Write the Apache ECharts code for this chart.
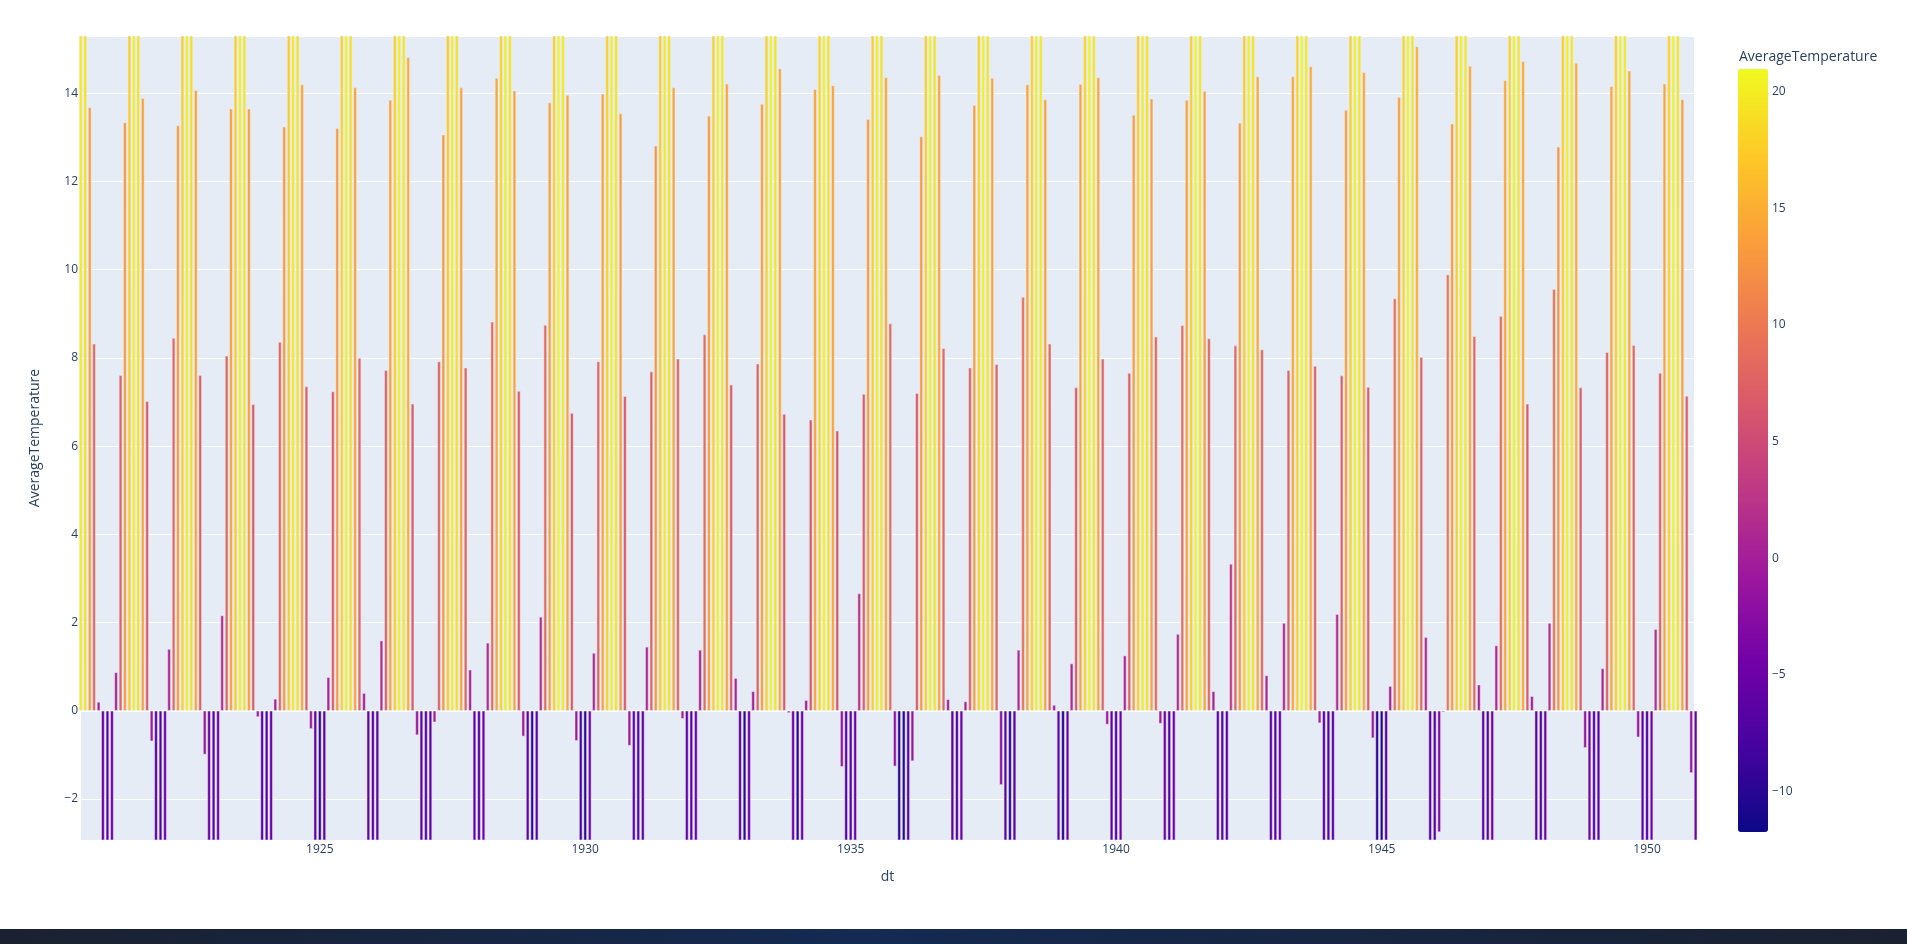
<!DOCTYPE html>
<html>
<head>
<meta charset="utf-8">
<script src="https://cdn.jsdelivr.net/npm/echarts@6/dist/echarts.min.js"></script>
<style>
html,body{margin:0;padding:0;background:#fff;}
#chart{width:1907px;height:944px;}
</style>
</head>
<body>
<div id="chart"></div>
<script>
// Monthly AverageTemperature, Jan..Dec per year (1920 starts in July)
const t1920 = [19.8, 19.2, 13.68, 8.32, 0.20, -4.8];
const t1921 = [-6.5, -4.5, 0.87, 7.61, 13.34, 17.6, 20.1, 19.3, 13.89, 7.02, -0.69, -6.0];
const t1922 = [-6.8, -4.6, 1.40, 8.45, 13.27, 17.8, 19.9, 19.0, 14.07, 7.61, -0.99, -4.5];
const t1923 = [-6.6, -4.2, 2.16, 8.05, 13.65, 17.5, 20.3, 19.4, 13.65, 6.95, -0.14, -6.2];
const t1924 = [-6.9, -4.8, 0.27, 8.36, 13.24, 17.4, 19.8, 19.1, 14.20, 7.35, -0.41, -6.1];
const t1925 = [-8.9, -5.9, 0.76, 7.24, 13.21, 17.9, 20.4, 19.2, 14.13, 8.00, 0.40, -5.8];
const t1926 = [-6.4, -5.7, 1.59, 7.72, 13.85, 17.7, 20.0, 19.6, 14.82, 6.96, -0.55, -5.9];
const t1927 = [-6.3, -6.0, -0.26, 7.92, 13.06, 17.3, 20.2, 19.0, 14.13, 7.78, 0.93, -5.6];
const t1928 = [-6.2, -4.4, 1.54, 8.82, 14.35, 18.1, 20.1, 19.5, 14.06, 7.25, -0.58, -6.0];
const t1929 = [-9.3, -6.2, 2.13, 8.75, 13.79, 17.6, 20.5, 19.7, 13.96, 6.75, -0.68, -7.8];
const t1930 = [-9.6, -4.3, 1.31, 7.92, 13.99, 17.9, 20.2, 19.3, 13.54, 7.13, -0.79, -6.1];
const t1931 = [-6.5, -6.0, 1.45, 7.69, 12.81, 17.5, 19.9, 19.4, 14.13, 7.98, -0.18, -5.5];
const t1932 = [-6.0, -4.6, 1.38, 8.53, 13.49, 17.8, 20.3, 19.5, 14.22, 7.39, 0.74, -6.2];
const t1933 = [-9.4, -4.5, 0.44, 7.87, 13.76, 17.9, 20.6, 19.6, 14.56, 6.73, -0.05, -4.3];
const t1934 = [-9.5, -4.4, 0.24, 6.60, 14.09, 18.2, 20.4, 19.3, 14.18, 6.35, -1.27, -6.3];
const t1935 = [-6.6, -4.7, 2.66, 7.18, 13.41, 17.6, 20.1, 19.2, 14.36, 8.78, -1.26, -9.6];
const t1936 = [-10.2, -6.4, -1.14, 7.20, 13.02, 17.7, 20.4, 19.5, 14.41, 8.22, 0.26, -6.1];
const t1937 = [-6.7, -4.6, 0.21, 7.78, 13.73, 18.0, 20.3, 19.4, 14.35, 7.86, -1.68, -6.4];
const t1938 = [-9.4, -6.3, 1.38, 9.38, 14.20, 17.9, 20.2, 19.8, 13.86, 8.32, 0.13, -6.2];
const t1939 = [-9.8, -4.5, 1.07, 7.33, 14.21, 18.1, 20.5, 19.4, 14.36, 7.98, -0.31, -6.0];
const t1940 = [-6.8, -4.7, 1.25, 7.66, 13.51, 17.6, 20.0, 19.2, 13.88, 8.48, -0.29, -4.4];
const t1941 = [-6.5, -4.3, 1.74, 8.74, 13.85, 17.8, 20.6, 19.5, 14.05, 8.44, 0.44, -6.1];
const t1942 = [-6.6, -6.2, 3.33, 8.28, 13.33, 17.5, 20.2, 19.3, 14.38, 8.19, 0.80, -6.0];
const t1943 = [-6.4, -4.6, 1.99, 7.72, 14.38, 18.0, 20.7, 19.7, 14.61, 7.82, -0.28, -6.2];
const t1944 = [-6.5, -6.0, 2.19, 7.60, 13.62, 17.9, 20.4, 19.6, 14.48, 7.34, -0.62, -9.5];
const t1945 = [-10.0, -6.3, 0.56, 9.35, 13.91, 18.2, 20.5, 19.4, 15.06, 8.02, 1.67, -6.2];
const t1946 = [-6.6, -2.75, -0.03, 9.89, 13.31, 17.8, 20.3, 19.6, 14.62, 8.49, 0.59, -6.1];
const t1947 = [-6.8, -4.5, 1.48, 8.95, 14.29, 18.1, 20.6, 19.5, 14.73, 6.96, 0.33, -6.0];
const t1948 = [-6.7, -4.6, 1.99, 9.56, 12.79, 17.7, 20.2, 19.4, 14.69, 7.33, -0.84, -4.4];
const t1949 = [-6.5, -6.1, 0.96, 8.13, 14.16, 17.9, 20.4, 19.8, 14.51, 8.29, -0.60, -6.0];
const t1950 = [-6.6, -4.5, 1.85, 7.66, 14.22, 18.0, 20.5, 19.5, 13.86, 7.14, -1.41, -4.8];

const years = [1920,1921,1922,1923,1924,1925,1926,1927,1928,1929,1930,1931,1932,1933,1934,1935,1936,1937,1938,1939,1940,1941,1942,1943,1944,1945,1946,1947,1948,1949,1950];
const yearValues = [t1920,t1921,t1922,t1923,t1924,t1925,t1926,t1927,t1928,t1929,t1930,t1931,t1932,t1933,t1934,t1935,t1936,t1937,t1938,t1939,t1940,t1941,t1942,t1943,t1944,t1945,t1946,t1947,t1948,t1949,t1950];

const xTickYears = [1925, 1930, 1935, 1940, 1945, 1950];
const yTicks = [-2, 0, 2, 4, 6, 8, 10, 12, 14];
const cbTicks = [-10, -5, 0, 5, 10, 15, 20];
const colorMin = -11.73, colorMax = 20.96;
const plasma = ['#0d0887','#46039f','#7201a8','#9c179e','#bd3786','#d8576b','#ed7953','#fb9f3a','#fdca26','#f0f921'];

const data = [];
years.forEach((yr, k) => {
  const vals = yearValues[k];
  const m0 = 12 - vals.length;
  vals.forEach((v, i) => data.push([Date.UTC(yr, m0 + i, 1), v]));
});

const FONT = '"Open Sans", verdana, arial, sans-serif';
const TXT = '#2a3f5f';
const fmtNum = v => (v < 0 ? '\u2212' + Math.abs(v) : String(v));

const xMin = Date.UTC(1920, 6, 3), xMax = Date.UTC(1950, 10, 20);

const chart = echarts.init(document.getElementById('chart'), null, {renderer: 'canvas'});
chart.setOption({
  backgroundColor: '#ffffff',
  animation: false,
  textStyle: {fontFamily: FONT},
  title: {
    text: 'AverageTemperature', left: 1739, top: 50, padding: 0,
    textStyle: {fontSize: 14, fontWeight: 'normal', color: TXT, fontFamily: FONT}
  },
  grid: [
    {left: 81, top: 36, width: 1613, height: 804, backgroundColor: '#E5ECF6', show: true, borderWidth: 0, containLabel: false},
    {left: 1738, top: 69, width: 30, height: 763, show: false, containLabel: false}
  ],
  xAxis: [
    {
      type: 'value', gridIndex: 0, min: xMin, max: xMax,
      name: 'dt', nameLocation: 'middle', nameGap: 30,
      nameTextStyle: {fontSize: 14, color: TXT, fontFamily: FONT},
      axisLine: {show: false, onZero: false}, axisTick: {show: false}, splitLine: {show: false},
      axisLabel: {
        color: TXT, fontSize: 12, fontFamily: FONT, margin: 4,
        customValues: xTickYears.map(y => Date.UTC(y, 0, 1)),
        formatter: v => String(new Date(v).getUTCFullYear())
      }
    },
    {
      type: 'value', gridIndex: 0, min: xMin, max: xMax, position: 'bottom',
      axisLine: {show: true, onZero: true, lineStyle: {color: '#ffffff', width: 2}},
      axisTick: {show: false}, axisLabel: {show: false}, splitLine: {show: false}
    },
    {type: 'value', gridIndex: 1, show: false, min: 0, max: 1}
  ],
  yAxis: [
    {
      type: 'value', gridIndex: 0, min: -2.93, max: 15.3, minInterval: 2, maxInterval: 2,
      name: 'AverageTemperature', nameLocation: 'middle', nameGap: 39, nameRotate: 90,
      nameTextStyle: {fontSize: 14, color: TXT, fontFamily: FONT},
      axisLine: {show: false}, axisTick: {show: false},
      splitLine: {show: true, lineStyle: {color: '#ffffff', width: 1}},
      axisLabel: {color: TXT, fontSize: 12, fontFamily: FONT, margin: 3, showMinLabel: false, showMaxLabel: false,
        formatter: v => (yTicks.indexOf(Math.round(v)) >= 0 && Math.abs(v - Math.round(v)) < 1e-6) ? fmtNum(Math.round(v)) : ''}
    },
    {
      type: 'value', gridIndex: 1, min: colorMin, max: colorMax, position: 'right', minInterval: 5, maxInterval: 5,
      axisLine: {show: false}, axisTick: {show: false}, splitLine: {show: false},
      axisLabel: {color: TXT, fontSize: 12, fontFamily: FONT, margin: 4, showMinLabel: false, showMaxLabel: false,
        formatter: v => (cbTicks.indexOf(Math.round(v)) >= 0 && Math.abs(v - Math.round(v)) < 1e-6) ? fmtNum(Math.round(v)) : ''}
    }
  ],
  visualMap: {
    type: 'continuous', seriesIndex: 0, dimension: 1,
    min: colorMin, max: colorMax, calculable: false, realtime: false,
    orient: 'vertical', left: 1738, top: 69, itemWidth: 30, itemHeight: 763, padding: 0,
    hoverLink: false,
    inRange: {color: plasma}
  },
  series: [{
    type: 'bar', xAxisIndex: 0, yAxisIndex: 0, data: data,
    barWidth: 3.26, clip: true,
    itemStyle: {borderColor: '#E5ECF6', borderWidth: 0.5},
    z: 2
  }],
  graphic: [{
    type: 'rect', left: 0, top: 929, z: 100,
    shape: {width: 1907, height: 15},
    style: {fill: new echarts.graphic.LinearGradient(0, 0, 1, 0, [
      {offset: 0, color: '#1b2130'}, {offset: 0.45, color: '#142a52'}, {offset: 1, color: '#1b2130'}])}
  }]
});
</script>
</body>
</html>
